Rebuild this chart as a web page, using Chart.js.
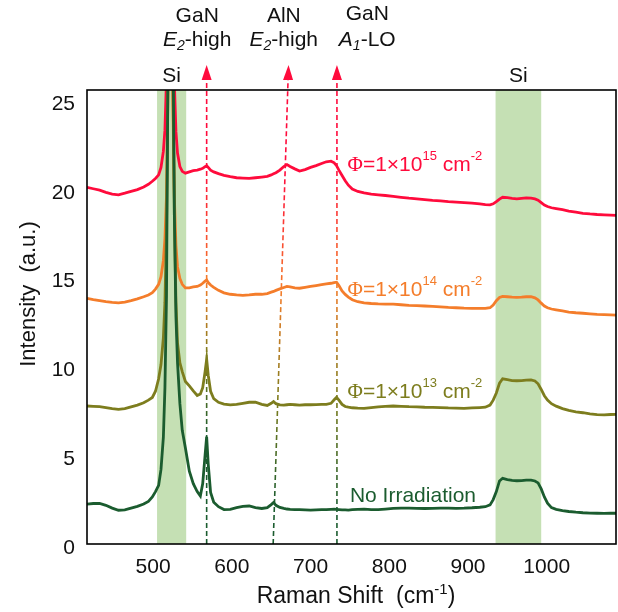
<!DOCTYPE html>
<html>
<head>
<meta charset="utf-8">
<script src="https://cdn.jsdelivr.net/npm/chart.js@4"></script>
<style>
  html, body { margin: 0; padding: 0; background: #fff; }
  #wrap { width: 618px; height: 612px; }
</style>
</head>
<body>
<div id="wrap"><canvas id="myChart"></canvas></div>
<script>
// Raman shift grid (cm-1), shared by all four spectra
var shift = [
  416, 424, 432, 440, 448, 456, 464, 472, 480, 488,
  494, 499, 503, 507, 510, 513, 515, 517, 519, 521,
  523, 525, 527, 529, 531, 534, 537, 541, 546, 551,
  556, 560, 563, 566, 568, 570, 573, 577, 583, 590,
  598, 606, 614, 622, 630, 638, 645, 650, 653, 656,
  661, 666, 670, 674, 680, 686, 693, 700, 707, 714,
  720, 726, 730, 733, 736, 740, 744, 748, 753, 760,
  768, 777, 786, 795, 805, 815, 825, 835, 845, 855,
  865, 875, 885, 895, 905, 915, 922, 928, 932, 936,
  940, 944, 950, 956, 962, 968, 974, 980, 985, 989,
  993, 997, 1001, 1006, 1012, 1020, 1028, 1037, 1046, 1055,
  1064, 1073, 1081, 1088
];

// intensities (a.u., offset as plotted)
var noIrradiation = [
  2.25, 2.28, 2.28, 2.18, 2.02, 1.9, 1.92, 2.02, 2.12, 2.25,
  2.4, 2.65, 2.95, 3.3, 4.2, 6.0, 8.8, 14, 28, 50,
  48, 30, 18.5, 12.8, 10.2, 7.9, 6.4, 5.4, 4.1, 3.4,
  2.95, 2.7, 3.4, 5.0, 6.04, 4.5, 2.9, 2.35, 2.1, 1.94,
  1.95, 2.05, 2.12, 2.14, 2.05, 2.0, 2.05, 2.22, 2.34, 2.18,
  2.06, 2.0, 1.97, 1.95, 1.94, 1.93, 1.92, 1.91, 1.92, 1.93,
  1.94, 1.95, 1.96, 1.95, 1.94, 1.92, 1.92, 1.91, 1.93, 1.95,
  1.96, 1.94, 1.93, 1.96, 2.0, 2.02, 2.02, 2.01, 2.0, 2.01,
  2.02, 2.02, 2.01, 2.02, 2.04, 2.07, 2.1, 2.2, 2.5, 2.95,
  3.55, 3.7, 3.63, 3.58, 3.56, 3.57, 3.6, 3.6, 3.55, 3.44,
  3.1, 2.65, 2.3, 2.05, 1.95, 1.88, 1.83, 1.79, 1.76, 1.74,
  1.73, 1.72, 1.73, 1.73
];
var phi13 = [
  7.77, 7.75, 7.73, 7.68, 7.62, 7.58, 7.62, 7.72, 7.82, 7.95,
  8.1, 8.25, 8.6, 9.3, 10.1, 11.6, 13.6, 17.8, 27, 42,
  38, 27, 18.5, 13.6, 11.3, 10.2, 9.7, 9.15, 8.9, 8.62,
  8.36, 8.45, 8.8, 9.7, 10.4, 9.5, 8.6, 8.18, 7.98, 7.88,
  7.83, 7.86, 7.92, 7.98, 7.98, 7.86, 7.8, 7.92, 8.02, 7.9,
  7.83, 7.82, 7.84, 7.86, 7.84, 7.82, 7.84, 7.84, 7.85, 7.86,
  7.86, 7.92, 8.12, 8.26, 8.1, 7.86, 7.74, 7.7, 7.67, 7.65,
  7.64, 7.68, 7.72, 7.75, 7.77, 7.75, 7.73, 7.72, 7.7, 7.69,
  7.68, 7.66, 7.65, 7.64, 7.66, 7.68, 7.7, 7.82, 8.1, 8.5,
  9.05, 9.3, 9.25, 9.2, 9.19, 9.2, 9.23, 9.24, 9.18, 9.02,
  8.7, 8.35, 8.1, 7.9, 7.76, 7.62, 7.52, 7.44, 7.39, 7.33,
  7.28, 7.27, 7.29, 7.3
];
var phi14 = [
  13.83, 13.76, 13.7, 13.64, 13.6, 13.58, 13.62, 13.7, 13.8, 13.92,
  14.02, 14.15, 14.35, 14.62, 15.05, 15.95, 17.2, 19.6, 26, 38,
  34, 25, 19.5, 16.8, 15.6, 14.95, 14.62, 14.42, 14.42, 14.47,
  14.5, 14.58, 14.68, 14.8, 14.86, 14.72, 14.58, 14.45, 14.28, 14.14,
  14.06, 14.02, 14.0, 14.02, 14.06, 14.06, 14.1, 14.18, 14.22, 14.28,
  14.36, 14.44, 14.5, 14.48, 14.42, 14.4, 14.45, 14.5, 14.55, 14.6,
  14.64, 14.68, 14.72, 14.74, 14.55, 14.25, 14.05, 13.9, 13.75, 13.64,
  13.58, 13.54, 13.52, 13.51, 13.5, 13.47, 13.44, 13.42, 13.4, 13.38,
  13.35, 13.32, 13.3, 13.28, 13.27, 13.27, 13.27, 13.3, 13.45, 13.7,
  13.88, 13.94, 13.92, 13.9, 13.89, 13.9, 13.92, 13.92, 13.86, 13.74,
  13.56, 13.4, 13.3, 13.23, 13.18, 13.12, 13.06, 13.02, 12.99, 12.96,
  12.93, 12.91, 12.9, 12.89
];
var phi15 = [
  20.08, 20.0, 19.92, 19.8, 19.7, 19.66, 19.75, 19.85, 19.95, 20.1,
  20.25, 20.42, 20.58, 20.78, 21.2, 22.1, 23.3, 26.2, 33, 44,
  39, 30, 25.9, 23.2, 22.0, 21.25, 20.98, 20.88, 20.95, 21.02,
  21.05, 21.1, 21.15, 21.25, 21.3, 21.2, 21.05, 20.95, 20.85, 20.75,
  20.68, 20.62, 20.6, 20.58, 20.62, 20.66, 20.7, 20.78, 20.84, 20.9,
  21.05, 21.25, 21.36, 21.25, 21.12, 21.0, 21.08, 21.2, 21.3, 21.42,
  21.52, 21.55, 21.46, 21.3, 21.05, 20.75, 20.45, 20.2, 19.98, 19.85,
  19.77, 19.7, 19.66, 19.62, 19.57, 19.52, 19.47, 19.43, 19.39, 19.35,
  19.32, 19.28, 19.25, 19.22, 19.19, 19.15, 19.11, 19.09, 19.15, 19.28,
  19.42, 19.52, 19.5, 19.46, 19.43, 19.46, 19.49, 19.47, 19.43, 19.36,
  19.22, 19.08, 19.0, 18.93, 18.88, 18.82, 18.74, 18.68, 18.62, 18.58,
  18.55, 18.53, 18.52, 18.5
];

// fluence exponents for the labels (cm-2), null = no irradiation
var fluenceExp = [null, 13, 14, 15];

// Si bands (cm-1)
var siBands = [[505, 542], [935, 993]];

// peak guide lines: Raman shift at the bottom and at the top of the plot
var peakBottom = [568, 652.5, 733.5];
var peakTop = [568, 671, 733.5];

var yTicks = [0, 5, 10, 15, 20, 25];

var GREEN = '#1B5C2F', OLIVE = '#7D7D1E', ORANGE = '#F47D2B', RED = '#FF0B3C';
var seriesColors = [GREEN, OLIVE, ORANGE, RED];
var SANS = '"Liberation Sans", Arial, sans-serif';
var SERIF = '"Liberation Serif", "Times New Roman", serif';

function pts(vals) {
  return shift.map(function (s, i) { return { x: s, y: vals[i] }; });
}

// draws a list of text runs one after another
function drawRuns(ctx, runs, x, y, align) {
  var w = 0;
  runs.forEach(function (r) { ctx.font = r.font; w += ctx.measureText(r.t).width; });
  var cx = align === 'center' ? x - w / 2 : x;
  runs.forEach(function (r) {
    ctx.font = r.font;
    ctx.fillText(r.t, cx, y + (r.dy || 0));
    cx += ctx.measureText(r.t).width;
  });
}

var decor = {
  id: 'decor',
  beforeDatasetsDraw: function (chart) {
    var ctx = chart.ctx, a = chart.chartArea, xs = chart.scales.x, ys = chart.scales.y;
    var series = [phi15, phi14, phi13, noIrradiation];
    var cols = [RED, ORANGE, OLIVE, GREEN];
    ctx.save();
    ctx.fillStyle = '#C5E0B4';
    siBands.forEach(function (b) {
      var x0 = xs.getPixelForValue(b[0]), x1 = xs.getPixelForValue(b[1]);
      ctx.fillRect(x0, a.top, x1 - x0, a.bottom - a.top);
    });

    var tipY = 65, baseY = 80;
    peakBottom.forEach(function (xb, i) {
      var x0 = xs.getPixelForValue(xb), x1 = xs.getPixelForValue(peakTop[i]);
      var y0 = a.bottom, y1 = a.top;
      var slope = (x1 - x0) / (y1 - y0);
      var xBase = x1 + slope * (baseY - y1);
      var xTip = x1 + slope * (tipY - y1);

      // colour runs from red at the top to dark green at the bottom
      var k = 0, best = 1e9;
      shift.forEach(function (s, j) { if (Math.abs(s - xb) < best) { best = Math.abs(s - xb); k = j; } });
      var g = ctx.createLinearGradient(0, tipY, 0, y0);
      g.addColorStop(0, RED);
      series.forEach(function (s, j) {
        var f = (ys.getPixelForValue(s[k]) - tipY) / (y0 - tipY);
        g.addColorStop(Math.min(Math.max(f, 0), 1), cols[j]);
      });
      g.addColorStop(1, GREEN);

      ctx.strokeStyle = g;
      ctx.lineWidth = 1.6;
      ctx.setLineDash([5, 3]);
      ctx.beginPath();
      ctx.moveTo(x0, y0);
      ctx.lineTo(xBase, baseY);
      ctx.stroke();

      ctx.setLineDash([]);
      ctx.fillStyle = RED;
      ctx.beginPath();
      ctx.moveTo(xTip, tipY);
      ctx.lineTo(xBase - 5, baseY);
      ctx.lineTo(xBase + 5, baseY);
      ctx.closePath();
      ctx.fill();
    });
    ctx.restore();
  },
  afterDatasetsDraw: function (chart) {
    var ctx = chart.ctx, a = chart.chartArea, xs = chart.scales.x, ys = chart.scales.y;
    ctx.save();
    // frame
    ctx.strokeStyle = '#000';
    ctx.lineWidth = 1.6;
    ctx.strokeRect(a.left, a.top, a.right - a.left, a.bottom - a.top);

    ctx.textBaseline = 'alphabetic';
    var f = function (px, it) { return (it ? 'italic ' : '') + px + 'px ' + SANS; };

    // peak names above the plot
    ctx.fillStyle = '#111';
    var top = [
      { x: 556, lines: [[{ t: 'GaN', font: f(21) }],
        [{ t: 'E', font: f(21, 1) }, { t: '2', font: f(14, 1), dy: 4 }, { t: '-high', font: f(21) }]], b: [22, 46] },
      { x: 666, lines: [[{ t: 'AlN', font: f(21) }],
        [{ t: 'E', font: f(21, 1) }, { t: '2', font: f(14, 1), dy: 4 }, { t: '-high', font: f(21) }]], b: [22, 46] },
      { x: 772, lines: [[{ t: 'GaN', font: f(21) }],
        [{ t: 'A', font: f(21, 1) }, { t: '1', font: f(14, 1), dy: 4 }, { t: '-LO', font: f(21) }]], b: [20, 46] }
    ];
    top.forEach(function (p) {
      var px = xs.getPixelForValue(p.x);
      p.lines.forEach(function (runs, j) { drawRuns(ctx, runs, px, p.b[j], 'center'); });
    });
    siBands.forEach(function (b) {
      drawRuns(ctx, [{ t: 'Si', font: f(21) }], xs.getPixelForValue((b[0] + b[1]) / 2), 82, 'center');
    });

    // series labels
    var anchors = [[750, 2.38], [747, 8.22], [747, 13.96], [747, 21.0]];
    fluenceExp.forEach(function (e, i) {
      ctx.fillStyle = seriesColors[i];
      var runs;
      if (e === null) {
        runs = [{ t: 'No Irradiation', font: f(21) }];
      } else {
        runs = [{ t: 'Φ', font: '21px ' + SERIF }, { t: '=1×10', font: f(21) },
          { t: String(e), font: f(13), dy: -11 }, { t: ' cm', font: f(21) }, { t: '-2', font: f(13), dy: -11 }];
      }
      drawRuns(ctx, runs, xs.getPixelForValue(anchors[i][0]), ys.getPixelForValue(anchors[i][1]), 'left');
    });

    // axis titles
    ctx.fillStyle = '#111';
    drawRuns(ctx, [{ t: 'Raman Shift  (cm', font: f(23) }, { t: '-1', font: f(15), dy: -9 }, { t: ')', font: f(23) }],
      356, 603, 'center');
    ctx.translate(35, 294);
    ctx.rotate(-Math.PI / 2);
    drawRuns(ctx, [{ t: 'Intensity  (a.u.)', font: f(22) }], 0, 0, 'center');
    ctx.restore();
  }
};

var ctx = document.getElementById('myChart').getContext('2d');
var chart = new Chart(ctx, {
  type: 'line',
  data: {
    datasets: [
      { label: 'No Irradiation', data: pts(noIrradiation), borderColor: GREEN },
      { label: 'Φ=1×10^13 cm^-2', data: pts(phi13), borderColor: OLIVE },
      { label: 'Φ=1×10^14 cm^-2', data: pts(phi14), borderColor: ORANGE },
      { label: 'Φ=1×10^15 cm^-2', data: pts(phi15), borderColor: RED }
    ]
  },
  options: {
    responsive: true,
    maintainAspectRatio: false,
    animation: false,
    layout: { padding: { top: 90, right: 2, left: 0, bottom: 0 } },
    elements: {
      line: { borderWidth: 2.8, tension: 0, fill: false },
      point: { radius: 0, hoverRadius: 0 }
    },
    plugins: { legend: { display: false }, tooltip: { enabled: false } },
    scales: {
      x: {
        type: 'linear',
        min: 416,
        max: 1088,
        grid: { display: false, drawTicks: false },
        border: { display: false },
        ticks: {
          stepSize: 100, includeBounds: false, padding: 11, color: '#111',
          font: { family: SANS, size: 21 },
          callback: function (v) { return String(v); }
        },
        afterFit: function (s) { s.height = 68; }
      },
      y: {
        min: 0,
        max: 25.56,
        grid: { display: false, drawTicks: false },
        border: { display: false },
        afterBuildTicks: function (s) { s.ticks = yTicks.map(function (v) { return { value: v }; }); },
        ticks: { padding: 12, labelOffset: 4, color: '#111', font: { family: SANS, size: 21 } },
        afterFit: function (s) { s.width = 87; }
      }
    }
  },
  plugins: [decor]
});
</script>
</body>
</html>
